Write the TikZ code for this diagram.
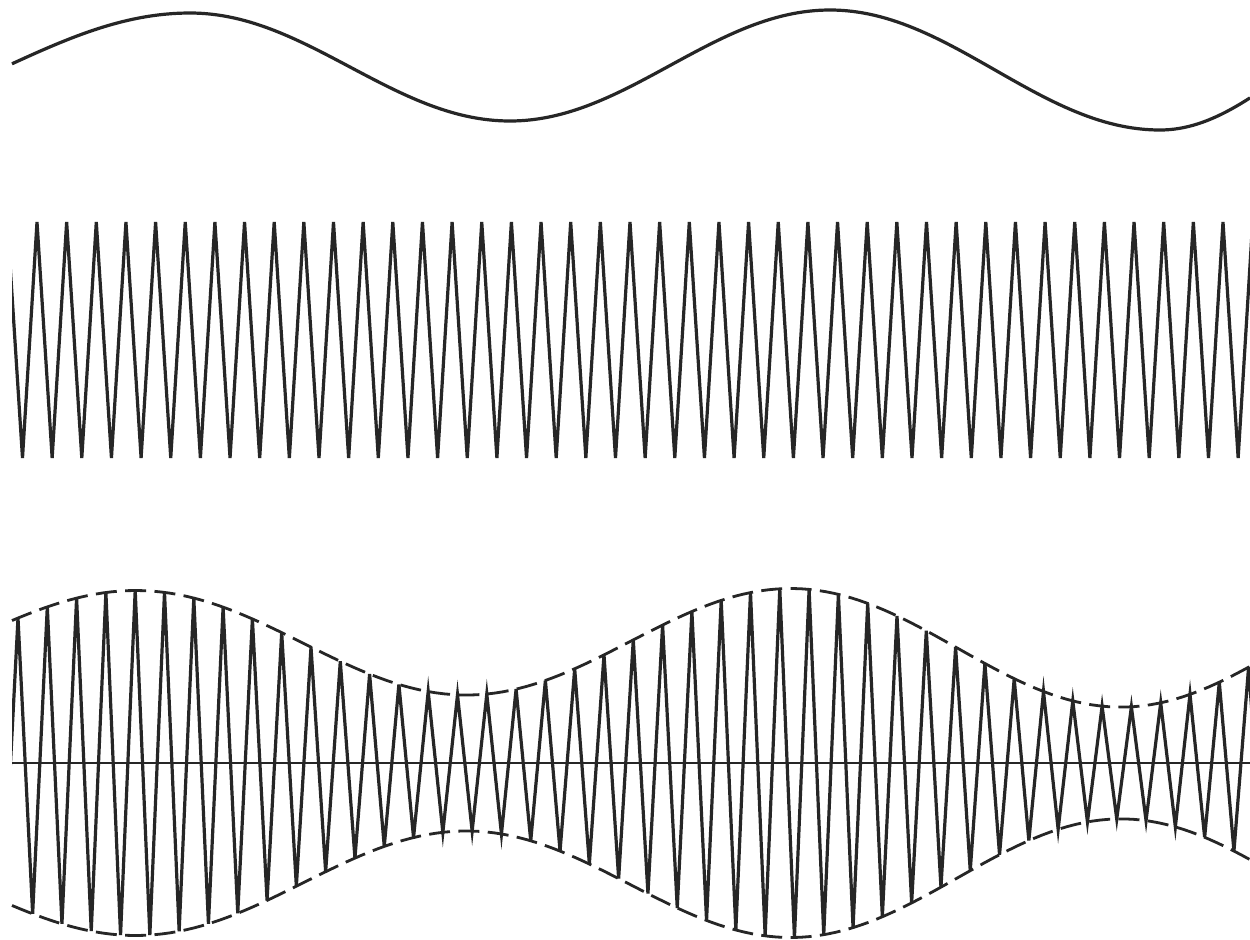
\documentclass[tikz,border=0pt]{standalone}
\begin{document}
\begin{tikzpicture}[x=0.5pt,y=-0.5pt]
\tikzset{
  wave/.style={line width=1.6pt, black!85},
  axisline/.style={line width=1.3pt, black!85},
  env/.style={line width=1.4pt, black!85, dash pattern=on 10.5pt off 4.2pt}
}
\def\envA#1{((122-5*((#1)-300)/650)+(51+7*((#1)-300)/650)*cos(((#1)-135)/655*360))}
\useasboundingbox (0,0) rectangle (1250,939);
\fill[white] (0,0) rectangle (1250,939);
% top: modulating signal
\draw[wave] plot[domain=12:190,samples=40] (\x,{67-54*cos((\x-190)/370*180)})
  -- plot[domain=190:510,samples=60] (\x,{67-54*cos((\x-190)/320*180)})
  -- plot[domain=510:830,samples=60] (\x,{65.5+55.5*cos((\x-510)/320*180)})
  -- plot[domain=830:1160,samples=60] (\x,{70-60*cos((\x-830)/330*180)})
  -- plot[domain=1160:1250,samples=20] (\x,{70+60*cos((\x-1160)/260*180)});
% middle: carrier
\begin{scope}
\clip (12,0) rectangle (1250,939);
\draw[wave] (7.35,222) foreach \k in {0,...,41} { -- ({22.5+29.65*\k},458) -- ({37+29.65*\k},222) };
% bottom: AM signal
\draw[axisline] (12,763) -- (1250,763);
\draw[wave] ({18-29.3},{763-\envA{18-29.3}}) foreach \k in {-1,...,42} { -- ({18+14.65+29.3*\k},{763+\envA{18+14.65+29.3*\k}}) -- ({18+29.3*(\k+1)},{763-\envA{18+29.3*(\k+1)}}) };
\end{scope}
\draw[env] plot[domain=12:1250,samples=150] (\x,{763-\envA{\x}});
\draw[env] plot[domain=12:1250,samples=150] (\x,{763+\envA{\x}});
\end{tikzpicture}
\end{document}
